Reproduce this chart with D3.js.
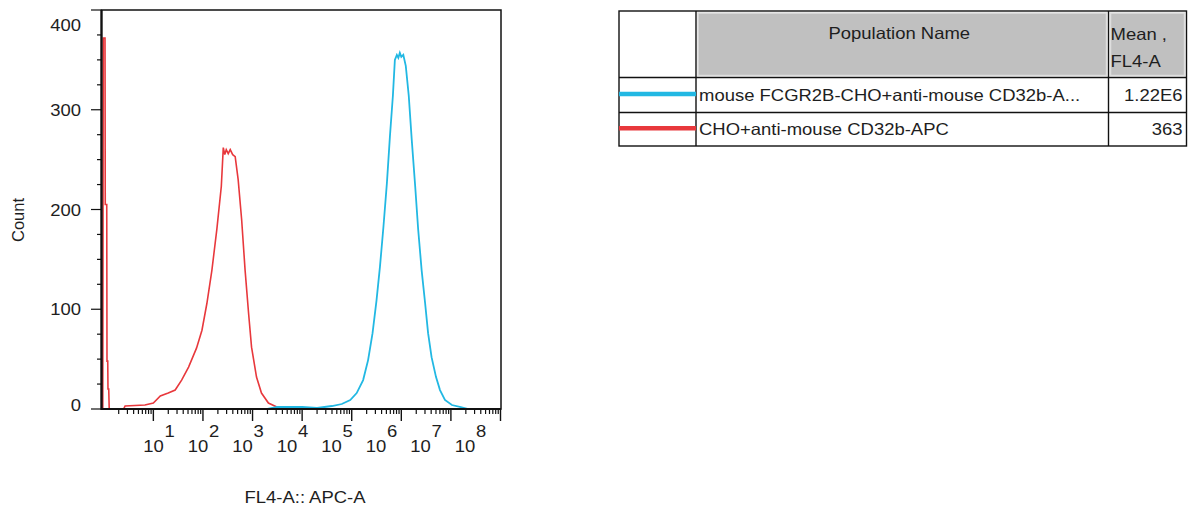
<!DOCTYPE html>
<html>
<head>
<meta charset="utf-8">
<script src="https://cdn.jsdelivr.net/npm/d3@7"></script>
<style>
  body { margin: 0; background: #fff; }
  text { font-family: "Liberation Sans", Arial, sans-serif; fill: #1e1e1e; }
</style>
</head>
<body>
<div id="chart"></div>
<script>
// histogram traces: x as log10 of FL4-A, y as count
const redLog   = [-0.02, -0.01, 0.025, 0.03, 0.06, 0.065, 0.08, 0.085, 0.1, 0.11, 0.4, 0.43, 0.83, 1.0, 1.14, 1.3, 1.44, 1.57, 1.71, 1.87, 1.98, 2.08, 2.18, 2.28, 2.37, 2.41, 2.44, 2.47, 2.51, 2.55, 2.6, 2.65, 2.71, 2.78, 2.85, 2.92, 2.98, 3.08, 3.18, 3.32, 3.49, 3.7, 8.0];
const redCount = [0, 372, 372, 205, 205, 48, 48, 20, 20, 0, 0, 3, 4, 6, 13, 16, 19, 29, 42, 61, 79, 106, 139, 180, 223, 262, 255, 260, 256, 260, 255, 253, 230, 190, 139, 96, 62, 32, 16, 6, 2, 0, 0];

const blueLog   = [-0.04, 3.3, 3.5, 4.0, 4.3, 4.6, 4.8, 4.97, 5.10, 5.23, 5.33, 5.42, 5.50, 5.57, 5.64, 5.71, 5.77, 5.83, 5.87, 5.91, 5.94, 5.97, 6.0, 6.04, 6.09, 6.15, 6.21, 6.28, 6.34, 6.41, 6.48, 6.54, 6.61, 6.70, 6.78, 6.88, 7.02, 7.2, 7.35, 8.05];
const blueCount = [0, 0, 2, 2, 1, 3, 5, 9, 16, 29, 49, 76, 109, 143, 183, 227, 273, 314, 350, 355, 352, 357, 353, 355, 344, 314, 270, 223, 180, 139, 106, 76, 52, 32, 19, 9, 4, 2, 0, 0];

const yTicks = [0, 100, 200, 300, 400];
const xDecades = [1, 2, 3, 4, 5, 6, 7, 8];

const populations = ["mouse FCGR2B-CHO+anti-mouse CD32b-A...", "CHO+anti-mouse CD32b-APC"];
const means = ["1.22E6", "363"];
const colors = ["#22b8e3", "#e8383c"];

const W = 1190, H = 514;
const sx = 1.12; // the text in the picture is a bit wide
const fs = 16.5;

const svg = d3.select("#chart").append("svg").attr("width", W).attr("height", H);

const pLeft = 101.5, pRight = 501, pTop = 10, pBottom = 409;
const x = d3.scaleLog().domain([0.9, 1e8]).range([pLeft, 500.5]);
const y = d3.scaleLinear().domain([0, 400]).range([pBottom, pTop]);
// decade labels sit a little tighter than the ticks in the picture
const xLab = d3.scaleLinear().domain([1, 8]).range([153.5, 465]);

function label(g, px, py, str, anchor, size) {
  return g.append("text")
    .attr("transform", `translate(${px},${py}) scale(${sx},1)`)
    .attr("text-anchor", anchor || "start")
    .attr("font-size", size || fs)
    .text(str);
}

svg.append("defs").append("clipPath").attr("id", "plot")
  .append("rect").attr("x", pLeft).attr("y", pTop).attr("width", pRight - pLeft).attr("height", pBottom - pTop);

// traces, blue on top
const line = d3.line().x(d => x(Math.pow(10, d[0]))).y(d => y(d[1]));
const plot = svg.append("g").attr("clip-path", "url(#plot)");
plot.append("path")
  .datum(d3.zip(redLog, redCount))
  .attr("fill", "none").attr("stroke", colors[1]).attr("stroke-width", 1.6)
  .attr("d", line);
plot.append("path")
  .datum(d3.zip(blueLog, blueCount))
  .attr("fill", "none").attr("stroke", colors[0]).attr("stroke-width", 1.8)
  .attr("d", line);

// frame
svg.append("rect").attr("x", pLeft).attr("y", pTop).attr("width", pRight - pLeft).attr("height", pBottom - pTop)
  .attr("fill", "none").attr("stroke", "#111").attr("stroke-width", 1.5);
svg.append("line").attr("x1", pLeft).attr("x2", pLeft).attr("y1", pTop).attr("y2", pBottom + 1)
  .attr("stroke", "#111").attr("stroke-width", 2.2);
svg.append("line").attr("x1", pLeft).attr("x2", pRight).attr("y1", pBottom).attr("y2", pBottom)
  .attr("stroke", "#111").attr("stroke-width", 2.2);

// y axis
const ya = svg.append("g");
d3.range(0, 401, 25).forEach(v => {
  const major = v % 100 === 0;
  ya.append("line").attr("x1", major ? 91 : 97).attr("x2", pLeft).attr("y1", y(v)).attr("y2", y(v))
    .attr("stroke", "#111").attr("stroke-width", 1.2);
});
yTicks.forEach(v => {
  let py = y(v) + 6;
  if (v === 400) py += 15;
  if (v === 0) py -= 4;
  label(ya, 81, py, v, "end");
});
label(ya, 0, 0, "Count", "middle")
  .attr("transform", `translate(24,220) rotate(-90)`);

// x axis, log decades
const xa = svg.append("g");
d3.range(0, 8).forEach(d => {
  d3.range(2, 10).forEach(k => {
    xa.append("line").attr("x1", x(k * Math.pow(10, d))).attr("x2", x(k * Math.pow(10, d)))
      .attr("y1", pBottom).attr("y2", pBottom + 5).attr("stroke", "#111").attr("stroke-width", 1.2);
  });
});
xDecades.forEach(d => {
  const px = x(Math.pow(10, d));
  xa.append("line").attr("x1", px).attr("x2", px).attr("y1", pBottom).attr("y2", pBottom + 12)
    .attr("stroke", "#111").attr("stroke-width", 1.4);
  label(xa, xLab(d), 452, "10", "middle");
  label(xa, xLab(d) + 11, 437, d, "start");
});
label(xa, 305, 503, "FL4-A:: APC-A", "middle");

// legend table
const tb = svg.append("g");
const tx0 = 619, tx1 = 696, tx2 = 1108.5, tx3 = 1186.5;
const ty0 = 11, ty1 = 77.5, ty2 = 112.5, ty3 = 146;
tb.append("rect").attr("x", tx1 + 2).attr("y", ty0 + 2).attr("width", tx2 - tx1 - 4).attr("height", ty1 - ty0 - 4)
  .attr("fill", "#c0c0c0").attr("stroke", "#dedede").attr("stroke-width", 1.5);
tb.append("rect").attr("x", tx2 + 2).attr("y", ty0 + 2).attr("width", tx3 - tx2 - 4).attr("height", ty1 - ty0 - 4)
  .attr("fill", "#c0c0c0").attr("stroke", "#dedede").attr("stroke-width", 1.5);
tb.append("rect").attr("x", tx0).attr("y", ty0).attr("width", tx3 - tx0).attr("height", ty3 - ty0)
  .attr("fill", "none").attr("stroke", "#111").attr("stroke-width", 1.4);
[tx1, tx2].forEach(v => tb.append("line").attr("x1", v).attr("x2", v).attr("y1", ty0).attr("y2", ty3)
  .attr("stroke", "#111").attr("stroke-width", 1.4));
[ty1, ty2].forEach(v => tb.append("line").attr("x1", tx0).attr("x2", tx3).attr("y1", v).attr("y2", v)
  .attr("stroke", "#111").attr("stroke-width", 1.4));

label(tb, (tx1 + tx2) / 2 - 3, 39, "Population Name", "middle");
label(tb, tx2 + 2, 40, "Mean ,", "start");
label(tb, tx2 + 2, 67, "FL4-A", "start");

const rowMid = [ty1 + (ty2 - ty1) / 2, ty2 + (ty3 - ty2) / 2];
populations.forEach((p, i) => {
  tb.append("line").attr("x1", tx0).attr("x2", tx1).attr("y1", rowMid[i] - 1).attr("y2", rowMid[i] - 1)
    .attr("stroke", colors[i]).attr("stroke-width", 4.5);
  label(tb, tx1 + 3, rowMid[i] + 6, p, "start");
  label(tb, tx3 - 4, rowMid[i] + 6, means[i], "end");
});
</script>
</body>
</html>
